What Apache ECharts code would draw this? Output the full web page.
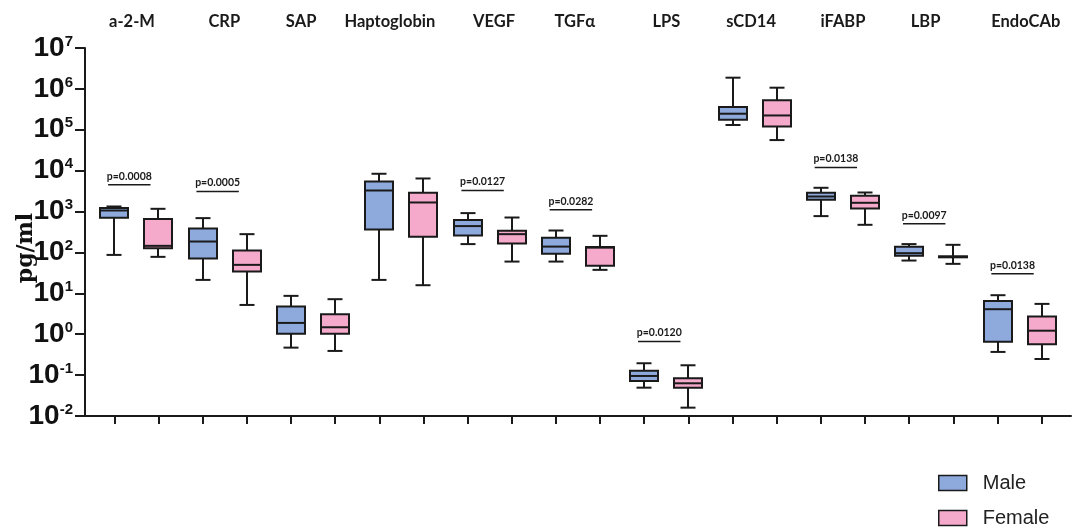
<!DOCTYPE html>
<html><head><meta charset="utf-8">
<script src="https://cdn.jsdelivr.net/npm/echarts@6/dist/echarts.min.js"></script>
<style>html,body{margin:0;padding:0;background:#fff}#c{width:1074px;height:529px}</style>
</head><body><div id="c"></div>
<script>
// ---- data (values in pg/ml): [min, Q1, median, Q3, max] ----
const categories = ['a-2-M','CRP','SAP','Haptoglobin','VEGF','TGF\u03b1','LPS','sCD14','iFABP','LBP','EndoCAb'];
const maleBoxes = [
  [87, 703, 1061, 1214, 1330],
  [21.3, 71, 185, 385, 691],
  [0.47, 1.02, 1.89, 4.74, 8.67],
  [21.3, 364, 3275, 5445, 8400],
  [160, 259, 441, 618, 916],
  [59.8, 92.5, 139, 228, 344],
  [0.0493, 0.0719, 0.0953, 0.1285, 0.195],
  [131000, 176000, 247000, 360000, 1880000],
  [774, 1940, 2334, 2878, 3813],
  [63.4, 82.6, 96, 137, 160],
  [0.369, 0.659, 4.09, 6.53, 9.0]
];
const femaleBoxes = [
  [78, 127, 145, 653, 1167],
  [5.2, 34.1, 49.7, 111, 280],
  [0.39, 1.02, 1.48, 3.09, 7.19],
  [15.8, 241, 1667, 2878, 6442],
  [59.8, 165, 280, 338, 715],
  [37.5, 47, 131, 135, 255],
  [0.016, 0.0493, 0.0631, 0.0838, 0.174],
  [56000, 121000, 224000, 524000, 1070000],
  [474, 1189, 1637, 2430, 2925],
  [52.6, 76, 78, 80.5, 153.6],
  [0.248, 0.569, 1.22, 2.70, 5.52]
];
const pCategories = ['a-2-M','CRP','VEGF','TGF\u03b1','LPS','iFABP','LBP','EndoCAb'];
const pTexts = ['p=0.0008','p=0.0005','p=0.0127','p=0.0282','p=0.0120','p=0.0138','p=0.0097','p=0.0138'];
const pLevels = [4520, 3100, 3280, 1100, 0.66, 11970, 500, 30];
const seriesNames = ['Male','Female'];

// ---- layout / style ----
const titleShift = [-0.10, -0.01, -0.27, -0.26, 0.10, -0.07, 0, -0.08, 0, -0.13, 0.14];
const BLUE = '#8eaadc', PINK = '#f5a9cb', INK = '#1a1a1a';
const posOf = (i, g) => 2 * i + 1 + g;
const titlePos = categories.map((c, i) => posOf(i, 0.5) + titleShift[i]);

function boxItem(b, i, g) { return [posOf(i, g)].concat(b); }

function renderBox(params, api) {
  const x = api.value(0);
  const pMin = api.coord([x, api.value(1)]);
  const pQ1 = api.coord([x, api.value(2)]);
  const pMed = api.coord([x, api.value(3)]);
  const pQ3 = api.coord([x, api.value(4)]);
  const pMax = api.coord([x, api.value(5)]);
  const cx = Math.round(pMin[0]);
  const bw = 28, cw = 15;
  const st = { stroke: INK, lineWidth: 2 };
  return { type: 'group', children: [
    { type: 'line', shape: { x1: cx, y1: pMax[1], x2: cx, y2: pQ3[1] }, style: st },
    { type: 'line', shape: { x1: cx, y1: pQ1[1], x2: cx, y2: pMin[1] }, style: st },
    { type: 'line', shape: { x1: cx - cw / 2, y1: pMax[1], x2: cx + cw / 2, y2: pMax[1] }, style: st },
    { type: 'line', shape: { x1: cx - cw / 2, y1: pMin[1], x2: cx + cw / 2, y2: pMin[1] }, style: st },
    { type: 'rect', shape: { x: cx - bw / 2, y: pQ3[1], width: bw, height: pQ1[1] - pQ3[1] },
      style: { fill: api.visual('color'), stroke: INK, lineWidth: 2 } },
    { type: 'line', shape: { x1: cx - bw / 2, y1: pMed[1], x2: cx + bw / 2, y2: pMed[1] }, style: st }
  ]};
}

function renderP(params, api) {
  const a = api.coord([api.value(0), api.value(2)]);
  const b = api.coord([api.value(1), api.value(2)]);
  const txt = pTexts[params.dataIndex];
  return { type: 'group', children: [
    { type: 'line', shape: { x1: a[0], y1: a[1], x2: b[0], y2: b[1] }, style: { stroke: INK, lineWidth: 1.5 } },
    { type: 'text', x: (a[0] + b[0]) / 2, y: a[1] - 3,
      style: { text: txt, fill: INK, font: 'bold 10.5px Lato, "Open Sans", sans-serif', align: 'center', verticalAlign: 'bottom' } }
  ]};
}

const pData = pCategories.map((c, k) => {
  const i = categories.indexOf(c);
  return [posOf(i, 0) - 0.14, posOf(i, 1) - 0.18, pLevels[k]];
});

const tickPos = [];
categories.forEach((c, i) => { tickPos.push(posOf(i, 0), posOf(i, 1)); });

const chart = echarts.init(document.getElementById('c'));
chart.setOption({
  animation: false,
  backgroundColor: '#fff',
  grid: { left: 85, right: 3, top: 48, bottom: 113, containLabel: false, outerBoundsMode: 'none' },
  xAxis: [{
    type: 'value', min: 0.3365, max: 22.664, position: 'bottom',
    splitLine: { show: false },
    axisLine: { lineStyle: { color: INK, width: 2 } },
    axisTick: { show: true, customValues: tickPos, length: 8, inside: false, lineStyle: { color: INK, width: 2 } },
    axisLabel: { show: false }
  }, {
    type: 'value', min: 0.3365, max: 22.664, position: 'top',
    splitLine: { show: false },
    axisLine: { show: false }, axisTick: { show: false },
    axisLabel: {
      show: true, customValues: titlePos, margin: 18,
      formatter: v => { let k = 0, d = 1e9; titlePos.forEach((p, i) => { if (Math.abs(p - v) < d) { d = Math.abs(p - v); k = i; } }); return categories[k]; },
      fontFamily: 'Lato, "Open Sans", sans-serif', fontWeight: 'bold', fontSize: 16.5, color: INK
    }
  }],
  yAxis: {
    type: 'log', logBase: 10, min: 0.01, max: 1e7, splitNumber: 9,
    splitLine: { show: false },
    axisLine: { show: true, lineStyle: { color: INK, width: 2 } },
    axisTick: { show: true, length: 10, lineStyle: { color: INK, width: 2 } },
    minorTick: { show: false },
    axisLabel: {
      margin: 12,
      formatter: v => '{b|10}{s|' + Math.round(Math.log10(v)) + '}',
      rich: {
        b: { fontSize: 28, lineHeight: 28, fontFamily: '"Liberation Sans Narrow", "Liberation Sans", Arial, sans-serif', fontWeight: 'bold', color: '#111' },
        s: { fontSize: 15, lineHeight: 15, verticalAlign: 'top', fontFamily: '"Liberation Sans Narrow", "Liberation Sans", Arial, sans-serif', fontWeight: 'bold', color: '#111' }
      }
    }
  },
  legend: {
    data: seriesNames, orient: 'vertical', left: 938, top: 473, padding: 0,
    itemWidth: 28, itemHeight: 15, itemGap: 15, icon: 'rect',
    itemStyle: { borderColor: INK, borderWidth: 1.5 },
    textStyle: { fontSize: 20, fontFamily: '"Liberation Sans", Arial, sans-serif', color: '#222', padding: [0, 0, 0, 11] }
  },
  graphic: [{
    type: 'text', x: 26, y: 248, rotation: Math.PI / 2,
    style: { text: 'pg/ml', font: 'bold 22px "DejaVu Serif", "Liberation Serif", serif', fill: '#111', align: 'center', verticalAlign: 'middle' }
  }],
  series: [
    { name: 'Male', type: 'custom', renderItem: renderBox, itemStyle: { color: BLUE },
      encode: { x: 0, y: [1, 2, 3, 4, 5] }, clip: false,
      data: maleBoxes.map((b, i) => boxItem(b, i, 0)) },
    { name: 'Female', type: 'custom', renderItem: renderBox, itemStyle: { color: PINK },
      encode: { x: 0, y: [1, 2, 3, 4, 5] }, clip: false,
      data: femaleBoxes.map((b, i) => boxItem(b, i, 1)) },
    { name: 'pvalues', type: 'custom', renderItem: renderP, clip: false, silent: true,
      encode: { x: [0, 1], y: 2 }, data: pData }
  ]
});
</script>
</body></html>
